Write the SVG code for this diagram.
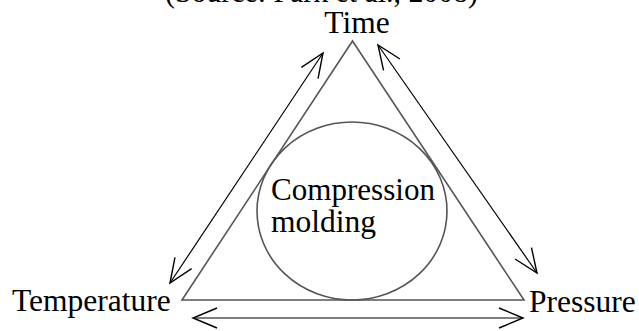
<svg xmlns="http://www.w3.org/2000/svg" width="639" height="331" viewBox="0 0 639 331">
  <style>
    .lbl { font-family: "Liberation Serif", "Times New Roman", serif; font-size: 31.5px; fill: #000; }
    .shape { fill: none; stroke: #555; stroke-width: 1.6; }
    .conn { fill: none; stroke: #000; stroke-width: 1.2; marker-start: url(#ah); marker-end: url(#ah); }
  </style>
  <defs>
    <marker id="ah" markerUnits="userSpaceOnUse" viewBox="-26 -13 30 26" markerWidth="30" markerHeight="26" refX="0" refY="0" orient="auto-start-reverse" overflow="visible">
      <path d="M-24,-10 L0,0 L-24,10" fill="none" stroke="#000" stroke-width="1.4"/>
    </marker>
  </defs>
  <rect width="639" height="331" fill="#fff"/>

  <text class="lbl" x="165" y="2" font-size="28" textLength="313" lengthAdjust="spacingAndGlyphs">(Source: Park et al., 2008)</text>

  <g id="triangle">
    <polygon class="shape" points="352.5,41 182,300 524,300"/>
  </g>

  <g id="compression-molding">
    <ellipse class="shape" cx="352" cy="211" rx="95" ry="89"/>
    <text class="lbl" x="271" y="200" font-size="30.5" textLength="164" lengthAdjust="spacingAndGlyphs">Compression</text>
    <text class="lbl" x="271" y="232" font-size="30.5">molding</text>
  </g>

  <g id="time">
    <text class="lbl" x="357" y="33" text-anchor="middle" font-size="29">Time</text>
  </g>

  <g id="temperature">
    <text class="lbl" x="12" y="311">Temperature</text>
  </g>

  <g id="pressure">
    <text class="lbl" x="529" y="312">Pressure</text>
  </g>

  <g id="connectors">
    <line class="conn" x1="170" y1="283" x2="323" y2="53"/>
    <line class="conn" x1="378" y1="45" x2="537" y2="273"/>
    <line class="conn" x1="193" y1="318" x2="523" y2="318"/>
  </g>
</svg>
